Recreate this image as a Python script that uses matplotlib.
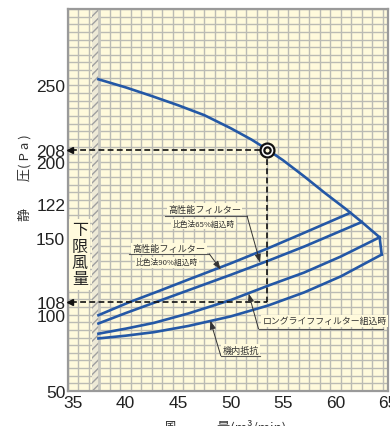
import matplotlib
matplotlib.use("Agg")
import matplotlib.pyplot as plt
import numpy as np

# ---------------- data ----------------
flow_fan = [37.4, 40.0, 42.5, 45.0, 47.5, 50.0, 52.0, 53.5, 55.0, 57.0, 59.0, 61.0, 62.5, 64.2]
pres_fan = [254, 248.7, 243, 237, 230.5, 222, 214.5, 208, 201, 190.5, 179.5, 169, 160.6, 150.6]

flow_hepa90 = [37.4, 40.3, 43.0, 46.0, 50.0, 53.6, 57.0, 61.4]
pres_hepa90 = [99.6, 108, 115, 123, 133.5, 143.5, 153.5, 166.6]

flow_hepa65 = [37.4, 40.0, 42.8, 46.0, 50.0, 53.6, 57.0, 62.5]
pres_hepa65 = [94.2, 101, 108, 116, 126, 135.3, 144.5, 160.6]

flow_long = [37.4, 40.0, 42.7, 46.0, 50.0, 53.6, 57.0, 60.5, 64.2]
pres_long = [87.5, 90.8, 94.6, 100.8, 109.5, 119, 127.5, 138, 150.6]

flow_int = [37.4, 40.0, 42.7, 46.0, 50.0, 53.6, 57.0, 60.5, 64.4]
pres_int = [84.4, 86.2, 88.5, 92.6, 98.8, 106, 114.5, 125, 139.3]

op_flow = 53.5
op_pres = 208
op_pres_low = 108
min_flow = 37.5

xtick_vals = [35, 40, 45, 50, 55, 60, 65]
xtick_labels = ["35", "40", "45", "50", "55", "60", "65"]
ytick_vals = [50, 100, 108, 150, 172.5, 200, 208, 250]
ytick_labels = ["50", "100", "108", "150", "122", "200", "208", "250"]

# ---------------- style ----------------
CJK = ["Noto Sans CJK JP", "DejaVu Sans"]
NUM = ["Liberation Sans", "DejaVu Sans"]
cream = "#FFFADC"
gridc = "#BBBBB4"
blue = "#2458A6"
txtc = "#333333"

fig = plt.figure(figsize=(3.9, 4.27), dpi=100)
fig.patch.set_facecolor("white")
ax = fig.add_axes([68/390, 35/427, 320/390, 382/427])
ax.set_facecolor(cream)
ax.set_xlim(34.5, 64.5)
ax.set_ylim(50, 300)

# grid
for xv in np.arange(34.5, 64.6, 1.0):
    ax.axvline(xv, color=gridc, lw=1.0, zorder=1)
for yv in np.arange(50, 301, 5):
    ax.axhline(yv, color=gridc, lw=1.0, zorder=1)

for s in ax.spines.values():
    s.set_color("#9A9A9A")
    s.set_linewidth(1.6)

# lower limit band
ax.axvspan(36.75, min_flow, facecolor="#EDE9D6", edgecolor="#A0A0A0",
           hatch="////", lw=0, zorder=2)
ax.axvline(min_flow, color="#C8C8C0", lw=2.0, zorder=2)

# curves
lw = 1.9
ax.plot(flow_fan, pres_fan, color=blue, lw=lw, zorder=5)
ax.plot(flow_hepa90, pres_hepa90, color=blue, lw=lw, zorder=5)
ax.plot(flow_hepa65, pres_hepa65, color=blue, lw=lw, zorder=5)
ax.plot(flow_long, pres_long, color=blue, lw=lw, zorder=5)
ax.plot(flow_int, pres_int, color=blue, lw=lw, zorder=5)
ax.plot([flow_long[-1], flow_int[-1]], [pres_long[-1], pres_int[-1]],
        color=blue, lw=lw, zorder=5)

# dashed guide lines
dkw = dict(color="#111111", lw=1.2, ls=(0, (3.5, 2)), zorder=6)
ax.plot([34.75, op_flow], [op_pres, op_pres], **dkw)
ax.plot([op_flow, op_flow], [op_pres, op_pres_low], **dkw)
ax.plot([34.75, op_flow], [op_pres_low, op_pres_low], **dkw)
ax.plot([34.72], [op_pres], marker="<", ms=4, color="#111111", zorder=7, clip_on=False)
ax.plot([34.72], [op_pres_low], marker="<", ms=4, color="#111111", zorder=7, clip_on=False)

# operating point (double circle)
ax.plot([op_flow], [op_pres], marker="o", ms=10, mfc="white", mec="#111111", mew=1.6, zorder=8)
ax.plot([op_flow], [op_pres], marker="o", ms=4.5, mfc=cream, mec="#111111", mew=1.6, zorder=9)

# annotations
bb = dict(boxstyle="square,pad=0.15", facecolor=cream, edgecolor="none")
def label(lines, sizes, centers, uline, tip):
    for t, fs, (cx, cy) in zip(lines, sizes, centers):
        ax.text(cx, cy, t, fontsize=fs, family=CJK, color=txtc, ha="center",
                va="center", bbox=bb, zorder=10)
    (x0, x1, yu) = uline
    ax.plot([x0, x1], [yu, yu], color="#555555", lw=0.8, zorder=11)
    start = (x1, yu) if tip[0] > (x0 + x1) / 2 else (x0, yu)
    ax.annotate("", xy=tip, xytext=start, zorder=11,
                arrowprops=dict(arrowstyle="-|>,head_length=0.5,head_width=0.18",
                                color="#333333", lw=0.7, shrinkA=0, shrinkB=0))

label(["高性能フィルター", "比色法65%組込時"], [6.6, 5.6],
      [(47.5, 169.1), (47.4, 159.2)], (43.78, 51.56, 164.7), (52.81, 134.0))
label(["高性能フィルター", "比色法90%組込時"], [6.6, 5.6],
      [(44.1, 143.3), (43.95, 134.2)], (40.31, 47.97, 139.7), (49.06, 129.5))
label(["ロングライフフィルター組込時"], [6.4],
      [(58.95, 96.0)], (52.66, 64.5, 90.6), (51.72, 113.8))
label(["機内抵抗"], [6.6],
      [(50.94, 76.6)], (49.06, 52.81, 73.1), (48.07, 96.0))

# 下限風量
ax.text(35.62, 139.5, "下\n限\n風\n量", fontsize=11.5, family=CJK, color="#222222",
        ha="center", va="center", linespacing=0.95, zorder=10,
        bbox=dict(boxstyle="square,pad=0.15", facecolor=cream, edgecolor="none"))

# ticks
ax.set_xticks(xtick_vals)
ax.set_xticklabels(xtick_labels, family=NUM, fontsize=12.5, color="#222222")
ax.set_yticks(ytick_vals)
ax.set_yticklabels(ytick_labels, family=NUM, fontsize=12.5, color="#222222")
ax.tick_params(length=0, pad=2)
ax.tick_params(axis="x", pad=3)

# axis titles
fig.text(25/390, 1 - 178/427, "静　　圧( P a )", rotation=90, fontsize=9.5, family=CJK,
         color="#333333", ha="center", va="center")
fig.text(225/390, 1 - 427/427, "風　　　量(m³/min)", fontsize=9.5, family=CJK,
         color="#333333", ha="center", va="center")

fig.savefig("out.png", dpi=100, facecolor="white")
